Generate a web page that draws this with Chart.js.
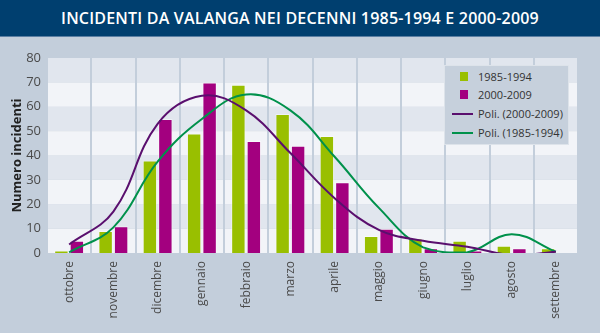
<!DOCTYPE html>
<html>
<head>
<meta charset="utf-8">
<script src="https://cdn.jsdelivr.net/npm/chart.js@4.4.1/dist/chart.umd.min.js"></script>
<style>
  body { margin: 0; background: #c3cedb; font-family: "Open Sans", sans-serif; }
  #wrap { position: relative; width: 600px; height: 333px; overflow: hidden; }
  #title {
    height: 37px; background: #003f6f; color: #fff; border-bottom: 1px solid #5b7fa3;
    font: 600 16px "Open Sans", sans-serif; letter-spacing: 0.2px; text-align: center; line-height: 37px; box-sizing: border-box;
  }
  #legend {
    position: absolute; left: 444px; top: 65px; width: 125px; height: 80px;
    background: #c6d0dc; border: 1px solid #dde3ea; box-sizing: border-box;
    font: 11px "Open Sans", sans-serif; color: #333;
  }
  #legend div { position: absolute; left: 33px; white-space: nowrap; line-height: 14px; }
  #legend span { position: absolute; }
</style>
</head>
<body>
<div id="wrap">
  <div id="title">INCIDENTI DA VALANGA NEI DECENNI 1985-1994 E 2000-2009</div>
  <canvas id="avalancheChart" width="600" height="296"></canvas>
  <div id="legend">
    <span style="left:15px;top:6px;width:8px;height:9px;background:#99bf00"></span>
    <div style="top:4px">1985-1994</div>
    <span style="left:15px;top:24px;width:8px;height:9px;background:#a3007f"></span>
    <div style="top:22px">2000-2009</div>
    <span style="left:7px;top:47px;width:21px;height:2px;background:#5a0f6e"></span>
    <div style="top:41px">Poli. (2000-2009)</div>
    <span style="left:7px;top:66px;width:21px;height:2px;background:#00914b"></span>
    <div style="top:60px">Poli. (1985-1994)</div>
  </div>
</div>
<script>
const months = ["ottobre", "novembre", "dicembre", "gennaio", "febbraio", "marzo",
  "aprile", "maggio", "giugno", "luglio", "agosto", "settembre"];
const decade1985 = [1, 9, 38, 49, 69, 57, 48, 7, 6, 5, 3, 2];
const decade2000 = [5, 11, 55, 70, 46, 44, 29, 10, 2, 1, 2, 0];
// trendline values at each month
const trend2000 = [3.5, 17, 53, 64.5, 58.5, 41, 22.5, 9.5, 5, 2.6, -0.8, 0.5];
const trend1985 = [0.3, 10.5, 37.5, 55, 65, 58.5, 39.5, 18.5, 2.3, 0.3, 7.7, 0.5];
const yTicks = [0, 10, 20, 30, 40, 50, 60, 70, 80];

// alternating horizontal bands behind the plot
const bandsPlugin = {
  id: "bands",
  beforeDraw(chart) {
    const { ctx, chartArea, scales } = chart;
    const y = scales.y;
    for (let i = 0; i < yTicks.length - 1; i++) {
      const top = y.getPixelForValue(yTicks[i + 1]);
      const bottom = y.getPixelForValue(yTicks[i]);
      ctx.fillStyle = i % 2 === 0 ? "#f2f4f8" : "#e1e6ee";
      ctx.fillRect(chartArea.left, top, chartArea.right - chartArea.left, bottom - top);
    }
  }
};

const ctx = document.getElementById("avalancheChart").getContext("2d");
new Chart(ctx, {
  data: {
    labels: months,
    datasets: [
      { type: "line", label: "Poli. (2000-2009)", data: trend2000, borderColor: "#5a0f6e",
        borderWidth: 2, pointRadius: 0, tension: 0.4, fill: false, order: 0 },
      { type: "line", label: "Poli. (1985-1994)", data: trend1985, borderColor: "#00914b",
        borderWidth: 2, pointRadius: 0, tension: 0.4, fill: false, order: 0 },
      { type: "bar", label: "1985-1994", data: decade1985, backgroundColor: "#99bf00",
        borderColor: "rgba(255,255,255,0.45)", borderWidth: 1, categoryPercentage: 0.7, barPercentage: 0.93, order: 1 },
      { type: "bar", label: "2000-2009", data: decade2000, backgroundColor: "#a3007f",
        borderColor: "rgba(255,255,255,0.45)", borderWidth: 1, categoryPercentage: 0.7, barPercentage: 0.93, order: 1 }
    ]
  },
  options: {
    responsive: false,
    animation: false,
    layout: { padding: { top: 21, right: 22, left: 0, bottom: 0 } },
    plugins: { legend: { display: false }, tooltip: { enabled: false } },
    scales: {
      x: {
        grid: { offset: true, color: "#c3cedb", lineWidth: 2, drawTicks: false },
        border: { display: false },
        ticks: { color: "#4a4a4a", font: { family: "Open Sans", size: 12 }, minRotation: 90, maxRotation: 90, padding: 8 },
        afterFit(scale) { scale.height = 80; }
      },
      y: {
        min: 0, max: 80,
        grid: { display: false, drawTicks: false },
        border: { display: false },
        ticks: { stepSize: 10, color: "#4a4a4a", font: { family: "Open Sans", size: 13 }, padding: 6 },
        title: { display: true, text: "Numero incidenti", color: "#222",
          font: { family: "Open Sans", size: 13, weight: "bold" }, padding: { top: 9, bottom: 4 } },
        afterFit(scale) { scale.width = 47; }
      }
    }
  },
  plugins: [bandsPlugin]
});
</script>
</body>
</html>
